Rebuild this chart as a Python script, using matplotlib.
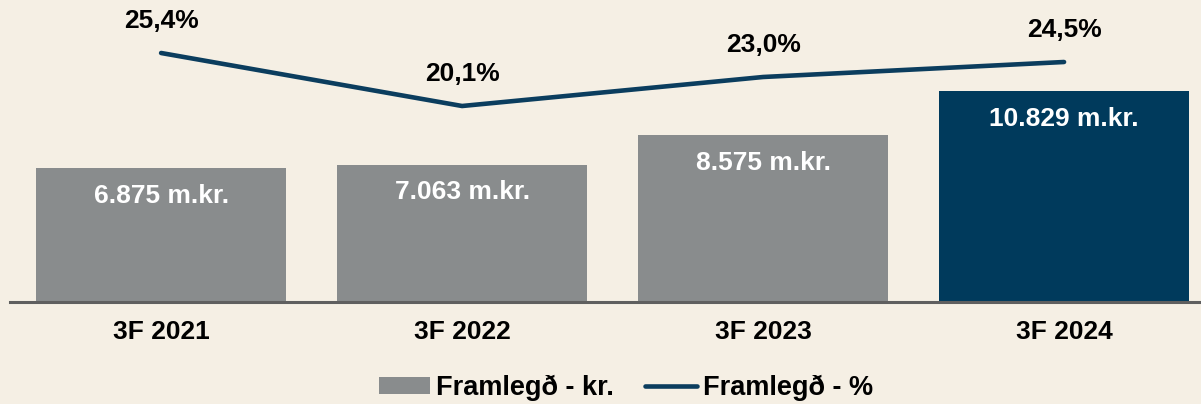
import numpy as np
import matplotlib.pyplot as plt
from matplotlib.patches import Patch
from matplotlib.lines import Line2D

plt.rcParams['font.family'] = ['Liberation Sans', 'DejaVu Sans']
plt.rcParams['font.weight'] = 'bold'

categories = ['3F 2021', '3F 2022', '3F 2023', '3F 2024']
margin_kr = [6875, 7063, 8575, 10829]          # m.kr.
margin_pct = [25.4, 20.1, 23.0, 24.5]           # %
bar_labels = ['6.875 m.kr.', '7.063 m.kr.', '8.575 m.kr.', '10.829 m.kr.']
pct_labels = ['25,4%', '20,1%', '23,0%', '24,5%']

bg = '#f5efe4'
gray = '#898c8d'
navy = '#003a5c'
line_col = '#0b3d5e'
fs = 19

fig = plt.figure(figsize=(12.01, 4.04), dpi=100, facecolor=bg)
ax = fig.add_axes([10 / 1201, 102 / 404, 1 - 10 / 1201, 302 / 404])
ax.set_facecolor(bg)

x = np.arange(len(categories))
colors = [gray, gray, gray, navy]
bars = ax.bar(x, margin_kr, width=0.83, color=colors, zorder=2)
ax.set_xlim(-0.502, 3.455)
ax.set_ylim(0, 15530)

for b, lab in zip(bars, bar_labels):
    ax.annotate(lab, (b.get_x() + b.get_width() / 2, b.get_height()),
                xytext=(0, -20), textcoords='offset points',
                ha='center', va='center', color='white', fontsize=fs,
                fontweight='bold')

ax.set_xticks(x)
ax.set_xticklabels(categories, fontsize=fs, fontweight='bold')
ax.tick_params(axis='x', length=0, pad=13)
ax.set_yticks([])
for s in ['top', 'left', 'right']:
    ax.spines[s].set_visible(False)
ax.spines['bottom'].set_color('#5f5f5f')
ax.spines['bottom'].set_linewidth(2.2)
ax.spines['bottom'].set_zorder(3)

ax2 = ax.twinx()
ax2.set_ylim(0.5, 30.7)
ax2.plot(x, margin_pct, color=line_col, lw=3.3, solid_capstyle='round',
         solid_joinstyle='miter', zorder=4)
for xi, v, lab in zip(x, margin_pct, pct_labels):
    ax2.annotate(lab, (xi, v), xytext=(0, 23), textcoords='offset points',
                 ha='center', va='center', fontsize=fs, fontweight='bold',
                 color='black')
ax2.set_yticks([])
for s in ax2.spines.values():
    s.set_visible(False)

handles = [Patch(facecolor=gray, edgecolor='none'),
           Line2D([0], [0], color=line_col, lw=3.3, solid_capstyle='round')]
fig.legend(handles, ['Framlegð - kr.', 'Framlegð - %'],
           loc='center', bbox_to_anchor=(626 / 1201, 1 - 388 / 404),
           ncol=2, frameon=False, fontsize=19.5, handlelength=1.9,
           handleheight=0.55, handletextpad=0.22, columnspacing=1.15)

fig.savefig('out.png', dpi=100, facecolor=bg)
